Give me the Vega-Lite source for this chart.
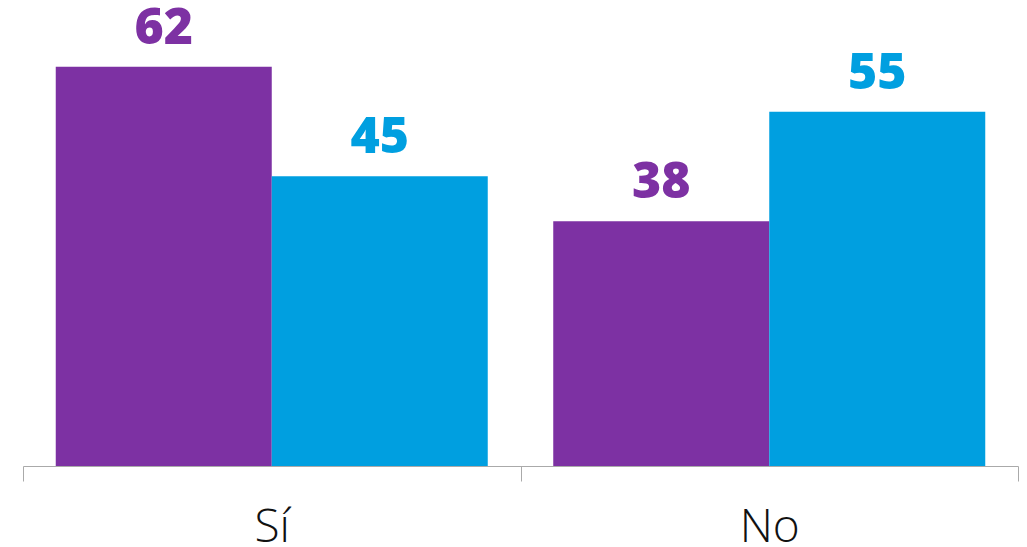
{
  "$schema": "https://vega.github.io/schema/vega-lite/v6.json",
  "width": 995,
  "height": 466,
  "autosize": {"type": "none"},
  "padding": {"left": 23, "top": 0, "right": 9, "bottom": 81},
  "background": "white",
  "config": {"view": {"stroke": null}},
  "data": {
    "values": [
      {"cat": "Sí", "serie": "A", "valor": 62},
      {"cat": "Sí", "serie": "B", "valor": 45},
      {"cat": "No", "serie": "A", "valor": 38},
      {"cat": "No", "serie": "B", "valor": 55}
    ]
  },
  "encoding": {
    "x": {
      "field": "cat",
      "type": "nominal",
      "sort": ["Sí", "No"],
      "scale": {"paddingInner": 0, "paddingOuter": 0},
      "axis": {
        "title": null,
        "labelAngle": 0,
        "domainColor": "#aaaaaa",
        "domainWidth": 1,
        "tickColor": "#aaaaaa",
        "tickSize": 15,
        "tickBand": "extent",
        "labelFont": "Open Sans",
        "labelFontSize": 46,
        "labelFontWeight": 300,
        "labelColor": "#111111",
        "labelPadding": 24,
        "grid": false
      }
    },
    "xOffset": {
      "field": "serie",
      "type": "nominal",
      "scale": {"paddingOuter": 0.1516, "paddingInner": 0}
    },
    "y": {
      "field": "valor",
      "type": "quantitative",
      "scale": {"domain": [0, 72.36], "nice": false, "zero": true},
      "axis": null
    },
    "color": {
      "field": "serie",
      "type": "nominal",
      "scale": {"domain": ["A", "B"], "range": ["#7d31a3", "#009fe0"]},
      "legend": null
    }
  },
  "layer": [
    {"mark": {"type": "bar"}},
    {
      "mark": {
        "type": "text",
        "baseline": "alphabetic",
        "dy": -23,
        "font": "Open Sans",
        "fontSize": 50,
        "fontWeight": 800
      },
      "encoding": {"text": {"field": "valor", "type": "quantitative"}}
    }
  ]
}
